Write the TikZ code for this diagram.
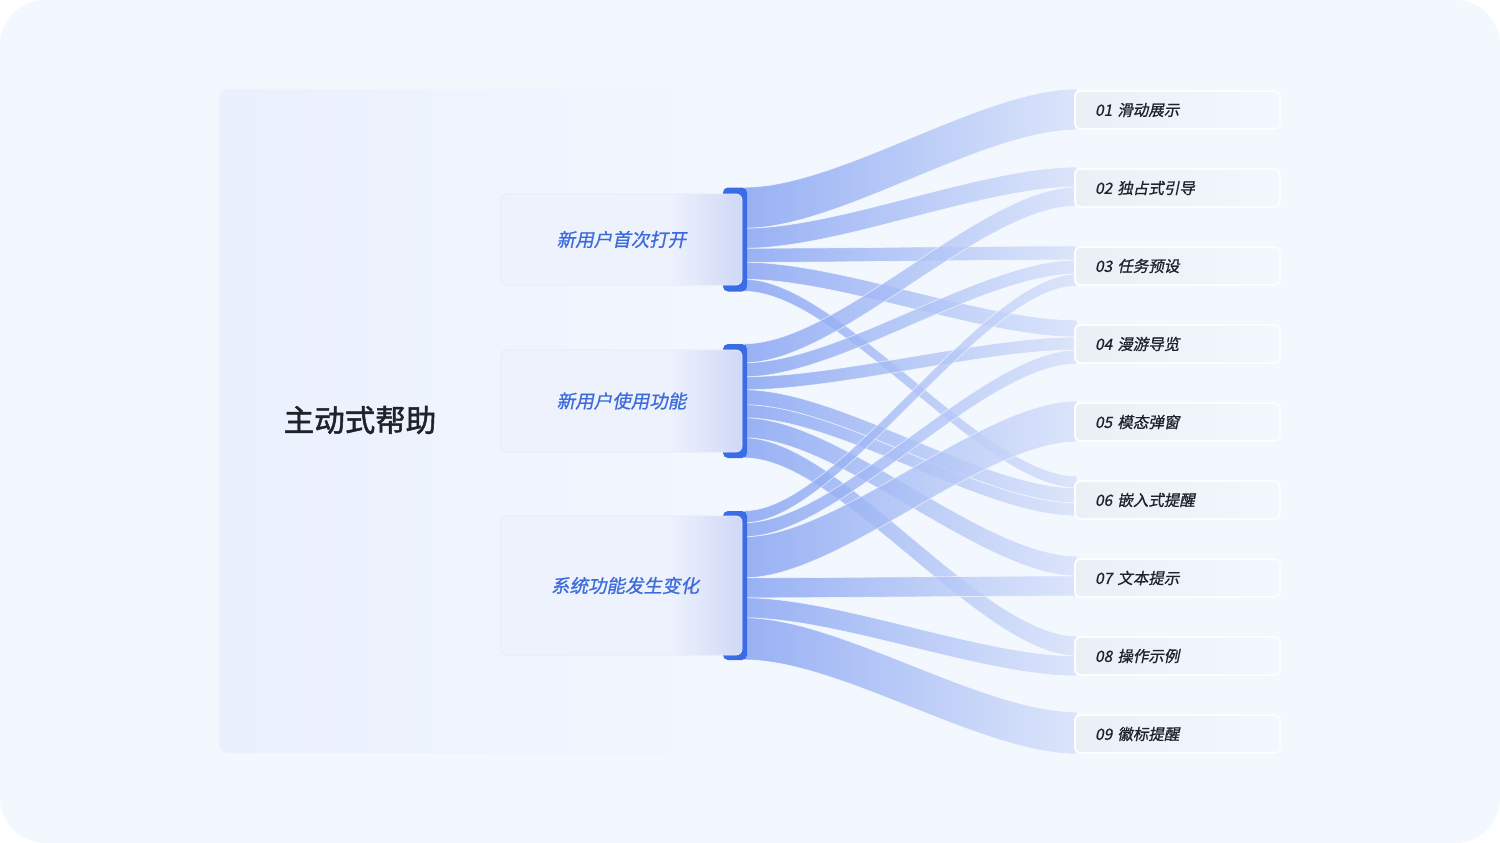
\documentclass[tikz,border=0pt]{standalone}
\usepackage{fontspec}
\setmainfont{Noto Sans CJK SC}
\newfontfamily\labelfont[FakeSlant=0.2,FakeBold=0.9]{Noto Sans CJK SC}
\newfontfamily\titlefont[FakeBold=1.6]{Noto Sans CJK SC}
\usetikzlibrary{calc}
\pgfdeclarelayer{bg}
\pgfdeclarelayer{flows}
\pgfsetlayers{bg,flows,main}
\definecolor{pagebg}{RGB}{243,247,254}
\definecolor{panelL}{RGB}{234,240,253}
\definecolor{boxL}{RGB}{238,242,253}
\definecolor{boxR}{RGB}{208,216,246}
\definecolor{boxedge}{RGB}{228,234,247}
\definecolor{barblue}{RGB}{59,108,232}
\definecolor{srctext}{RGB}{61,107,219}
\definecolor{flowL}{RGB}{130,160,242}
\definecolor{flowR}{RGB}{214,225,250}
\definecolor{tgtL}{RGB}{235,239,246}
\definecolor{tgtR}{RGB}{243,247,254}
\definecolor{tgtedge}{RGB}{252,253,255}
\definecolor{tgttext}{RGB}{31,34,41}
\pgfdeclarehorizontalshading{boxshade}{100bp}{color(0bp)=(boxL); color(25bp)=(boxL); color(60bp)=(boxL); color(75bp)=(boxR); color(100bp)=(boxR)}
% one band from a bar to a target: source, offset, target, offset, width
\newcommand{\flowband}[5]{%
  \coordinate (fa) at ($(#1.north east)+(-3,#2)$);
  \coordinate (fb) at ($(#3.north west)+(3,#4)$);
  \path[flow] (fa) .. controls ($(fa)+(95,0)$) and ($(fb)+(-95,0)$) .. (fb)
    -- ($(fb)+(0,#5)$) .. controls ($(fb)+(-95,#5)$) and ($(fa)+(95,#5)$) .. ($(fa)+(0,#5)$) -- cycle;}
\begin{document}
\begin{tikzpicture}[x=1pt,y=-1pt,
  flow/.style={left color=flowL, right color=flowR, fill opacity=0.8, draw=white, draw opacity=0.6, line width=0.7pt},
  barnode/.style={rectangle, rounded corners=5pt, fill=barblue, minimum width=24pt, inner sep=0pt},
  srcbox/.style={rectangle, rounded corners=6pt, shading=boxshade, draw=boxedge, line width=0.8pt, minimum width=241pt, inner sep=0pt, text=srctext, font=\labelfont\fontsize{18.5}{22}\selectfont},
  tgtbox/.style={rectangle, rounded corners=5pt, left color=tgtL, right color=tgtR, draw=tgtedge, line width=2pt, minimum width=205pt, minimum height=38pt, text width=165pt, inner xsep=20pt, align=left, text=tgttext, font=\labelfont\fontsize{15.5}{18}\selectfont}]
\useasboundingbox (0,0) rectangle (1500,843);
\begin{pgfonlayer}{bg}
\fill[white] (0,0) rectangle (1500,843);
\fill[pagebg, rounded corners=45pt] (0,0) rectangle (1500,843);
\node[rectangle, rounded corners=10pt, left color=panelL, right color=pagebg, minimum width=541pt, minimum height=664pt, inner sep=0pt] (panel) at (489.5,421) {};
\end{pgfonlayer}
\node[text=tgttext, font=\titlefont\fontsize{30.5}{34}\selectfont] (title) at (360,420) {主动式帮助};

% sources
\foreach \n/\y/\h/\bh/\txt/\dx in {1/239.5/104/91/新用户首次打开/0, 2/401/114/102/新用户使用功能/0, 3/585.5/149/139/系统功能发生变化/7}{
  \node[barnode, minimum height=\h pt] (bar\n) at (735,\y) {};
  \node[srcbox, minimum height=\bh pt] (src\n) at (621.5,\y) {\hspace*{\dx pt}\txt};
}

% targets
\foreach \i/\txt [count=\k] in {01/滑动展示, 02/独占式引导, 03/任务预设, 04/漫游导览, 05/模态弹窗, 06/嵌入式提醒, 07/文本提示, 08/操作示例, 09/徽标提醒}
  \node[tgtbox] (t\i) at (1177.5,{32+78*\k}) {\i\ \txt};

\begin{pgfonlayer}{flows}
\flowband{bar1}{0}{t01}{-1}{41}
\flowband{bar1}{41}{t02}{-1}{20}
\flowband{bar1}{61}{t03}{0}{14}
\flowband{bar1}{75}{t04}{-4}{17}
\flowband{bar1}{92}{t06}{-4}{12}
\flowband{bar2}{0}{t02}{19}{19}
\flowband{bar2}{19}{t03}{14}{14}
\flowband{bar2}{33}{t04}{13}{13}
\flowband{bar2}{46}{t06}{8}{15}
\flowband{bar2}{61}{t06}{23}{13}
\flowband{bar2}{74}{t07}{-2}{20}
\flowband{bar2}{94}{t08}{0}{20}
\flowband{bar3}{0}{t03}{28}{12}
\flowband{bar3}{12}{t04}{26}{14}
\flowband{bar3}{26}{t05}{-1}{41}
\flowband{bar3}{67}{t07}{18}{20}
\flowband{bar3}{87}{t08}{20}{20}
\flowband{bar3}{107}{t09}{-2}{42}
\end{pgfonlayer}
\end{tikzpicture}
\end{document}
